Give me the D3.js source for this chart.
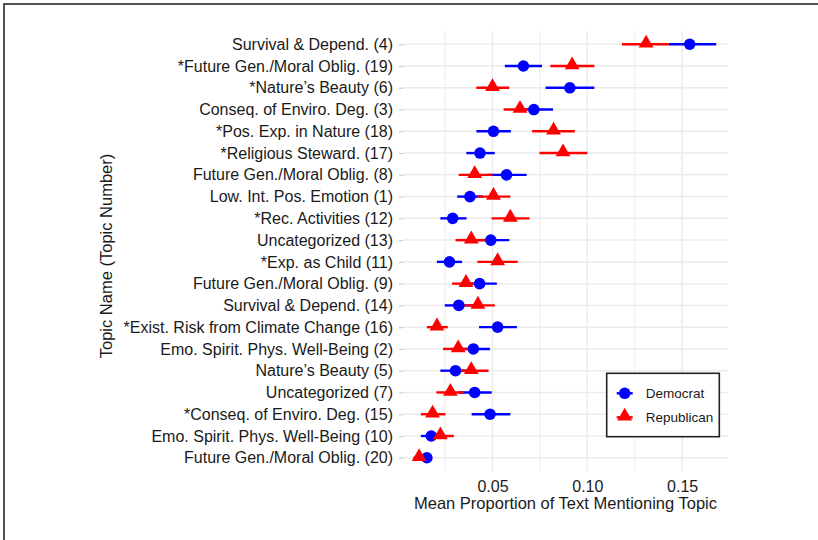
<!DOCTYPE html>
<html>
<head>
<meta charset="utf-8">
<script src="https://cdn.jsdelivr.net/npm/d3@7"></script>
<style>
  body { margin: 0; background: #fff; }
  svg { display: block; font-family: "Liberation Sans", Arial, sans-serif; }
</style>
</head>
<body>
<svg id="chart" width="818" height="540"></svg>
<script>
// topics, top to bottom
const topics = [
  "Survival & Depend. (4)",
  "*Future Gen./Moral Oblig. (19)",
  "*Nature\u2019s Beauty (6)",
  "Conseq. of Enviro. Deg. (3)",
  "*Pos. Exp. in Nature (18)",
  "*Religious Steward. (17)",
  "Future Gen./Moral Oblig. (8)",
  "Low. Int. Pos. Emotion (1)",
  "*Rec. Activities (12)",
  "Uncategorized (13)",
  "*Exp. as Child (11)",
  "Future Gen./Moral Oblig. (9)",
  "Survival & Depend. (14)",
  "*Exist. Risk from Climate Change (16)",
  "Emo. Spirit. Phys. Well-Being (2)",
  "Nature\u2019s Beauty (5)",
  "Uncategorized (7)",
  "*Conseq. of Enviro. Deg. (15)",
  "Emo. Spirit. Phys. Well-Being (10)",
  "Future Gen./Moral Oblig. (20)"
];

const demMean = [0.154, 0.0663, 0.0908, 0.0718, 0.0505, 0.0434, 0.0574, 0.0381, 0.029, 0.0491,
                 0.0273, 0.0432, 0.0322, 0.0527, 0.0399, 0.0305, 0.0406, 0.0487, 0.0177, 0.0154];
const demLo   = [0.143, 0.0565, 0.078, 0.0625, 0.0415, 0.0362, 0.047, 0.0314, 0.0225, 0.040,
                 0.0207, 0.034, 0.0248, 0.0429, 0.031, 0.0225, 0.032, 0.039, 0.0122, 0.0125];
const demHi   = [0.168, 0.0761, 0.1037, 0.0819, 0.0597, 0.0512, 0.068, 0.045, 0.0363, 0.0588,
                 0.034, 0.0523, 0.040, 0.0629, 0.0487, 0.038, 0.0496, 0.0594, 0.024, 0.0172];

const repMean = [0.131, 0.092, 0.050, 0.0645, 0.0822, 0.0872, 0.0406, 0.0505, 0.0594, 0.0388,
                 0.0527, 0.036, 0.0423, 0.0207, 0.0319, 0.0388, 0.0278, 0.0184, 0.0225, 0.0113];
const repLo   = [0.1183, 0.0805, 0.0415, 0.0559, 0.0709, 0.0748, 0.0322, 0.042, 0.0495, 0.0305,
                 0.042, 0.0287, 0.034, 0.0154, 0.0239, 0.030, 0.0204, 0.0122, 0.0155, 0.0083];
const repHi   = [0.143, 0.1037, 0.0588, 0.073, 0.0934, 0.100, 0.050, 0.0594, 0.0695, 0.047,
                 0.0633, 0.044, 0.0512, 0.0264, 0.040, 0.0479, 0.035, 0.0252, 0.0296, 0.014];

const xTicks = [0.05, 0.10, 0.15];
const xMinor = [0.025, 0.075, 0.125, 0.175];

const svg = d3.select("#chart");
const panel = { left: 403, right: 728, top: 31.2, bottom: 470.8 };
const fontFam = "Liberation Sans, Arial, sans-serif";
const ink = "#1a1a1a";

const x = d3.scaleLinear().domain([0.0028, 0.1742]).range([panel.left, panel.right]);
const y = d3.scalePoint().domain(topics).range([panel.top, panel.bottom]).padding(0.6);

// outer frame
svg.append("rect")
  .attr("x", 4).attr("y", 4).attr("width", 840).attr("height", 560)
  .attr("fill", "none").attr("stroke", "#2a2a2a").attr("stroke-width", 1.6);

// grid
const grid = svg.append("g");
grid.selectAll(".minor").data(xMinor.filter(d => x(d) <= panel.right + 1)).enter().append("line")
  .attr("x1", d => x(d)).attr("x2", d => x(d))
  .attr("y1", panel.top).attr("y2", panel.bottom)
  .attr("stroke", "#efefef").attr("stroke-width", 1.2);
grid.selectAll(".major").data(xTicks).enter().append("line")
  .attr("x1", d => x(d)).attr("x2", d => x(d))
  .attr("y1", panel.top).attr("y2", panel.bottom)
  .attr("stroke", "#ebebeb").attr("stroke-width", 1.5);
grid.selectAll(".row").data(topics).enter().append("line")
  .attr("x1", panel.left).attr("x2", panel.right)
  .attr("y1", d => y(d)).attr("y2", d => y(d))
  .attr("stroke", "#ebebeb").attr("stroke-width", 1.5);

// y axis
const yAxis = svg.append("g")
  .attr("transform", `translate(${panel.left},0)`)
  .call(d3.axisLeft(y).tickSize(4).tickPadding(6));
yAxis.select(".domain").remove();
yAxis.selectAll(".tick line").attr("stroke", "#cccccc").attr("stroke-width", 1.2);
yAxis.selectAll(".tick text").attr("font-size", 16).attr("fill", ink)
  .attr("font-family", fontFam);

// x axis
const xAxis = svg.append("g")
  .attr("transform", `translate(0,${panel.bottom})`)
  .call(d3.axisBottom(x).tickValues(xTicks).tickFormat(d3.format(".2f")).tickSize(0).tickPadding(10));
xAxis.select(".domain").remove();
xAxis.selectAll(".tick text").attr("font-size", 16).attr("fill", ink)
  .attr("font-family", fontFam);

// axis titles
svg.append("text")
  .attr("x", (panel.left + panel.right) / 2).attr("y", 509)
  .attr("text-anchor", "middle").attr("font-size", 16.5).attr("fill", ink)
  .text("Mean Proportion of Text Mentioning Topic");
svg.append("text")
  .attr("transform", `translate(112,${(panel.top + panel.bottom) / 2 + 5}) rotate(-90)`)
  .attr("text-anchor", "middle").attr("font-size", 16.5).attr("fill", ink)
  .text("Topic Name (Topic Number)");

const dem = topics.map((t, i) => ({ t, m: demMean[i], lo: demLo[i], hi: demHi[i] }));
const rep = topics.map((t, i) => ({ t, m: repMean[i], lo: repLo[i], hi: repHi[i] }));

const blue = "#0000ff", red = "#ff0000";
const tri = d3.symbol().type(d3.symbolTriangle).size(95);

// error bars
[[dem, blue], [rep, red]].forEach(([data, col]) => {
  svg.append("g").selectAll("line").data(data).enter().append("line")
    .attr("x1", d => x(d.lo)).attr("x2", d => x(d.hi))
    .attr("y1", d => y(d.t)).attr("y2", d => y(d.t))
    .attr("stroke", col).attr("stroke-width", 2.4);
});

// points
svg.append("g").selectAll("circle").data(dem).enter().append("circle")
  .attr("cx", d => x(d.m)).attr("cy", d => y(d.t)).attr("r", 5.8)
  .attr("fill", blue);
svg.append("g").selectAll("path").data(rep).enter().append("path")
  .attr("d", tri)
  .attr("transform", d => `translate(${x(d.m)},${y(d.t) - 1})`)
  .attr("fill", red);

// legend
const lg = svg.append("g").attr("transform", "translate(606.7,373.3)");
lg.append("rect").attr("width", 112.6).attr("height", 63.4)
  .attr("fill", "#fff").attr("stroke", "#222").attr("stroke-width", 1.6);
const items = [["Democrat", blue, "c"], ["Republican", red, "t"]];
items.forEach(([name, col, shp], i) => {
  const g = lg.append("g").attr("transform", `translate(18,${20 + i * 24})`);
  g.append("line").attr("x1", -8).attr("x2", 8).attr("stroke", col).attr("stroke-width", 2.4);
  if (shp === "c") g.append("circle").attr("r", 5.8).attr("fill", col);
  else g.append("path").attr("d", tri).attr("transform", "translate(0,-1)").attr("fill", col);
  g.append("text").attr("x", 21).attr("y", 4.5).attr("font-size", 13.5).attr("fill", ink).text(name);
});
</script>
</body>
</html>
